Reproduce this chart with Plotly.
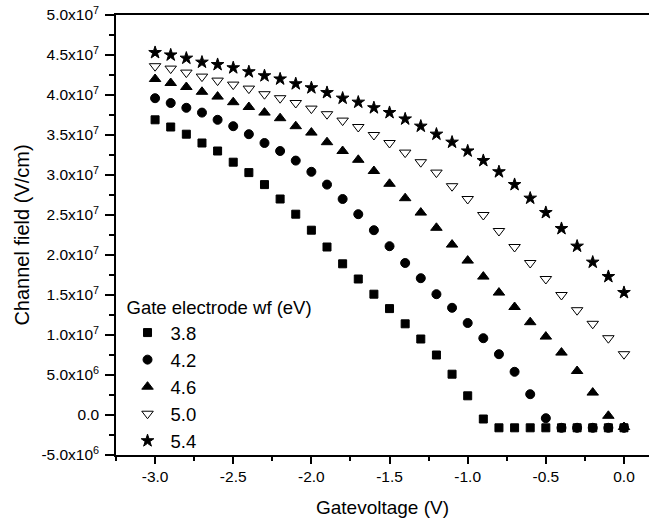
import plotly.graph_objects as go

gate_voltage = [round(-3.0 + 0.1 * i, 1) for i in range(31)]

field_38 = [3.69e7, 3.60e7, 3.51e7, 3.40e7, 3.30e7, 3.16e7, 3.03e7, 2.88e7, 2.70e7, 2.51e7,
            2.31e7, 2.10e7, 1.89e7, 1.70e7, 1.51e7, 1.33e7, 1.14e7, 9.5e6, 7.5e6, 5.1e6,
            2.4e6, -5.0e5, -1.6e6, -1.6e6, -1.6e6, -1.6e6, -1.6e6, -1.6e6, -1.6e6, -1.6e6, -1.6e6]
field_42 = [3.96e7, 3.90e7, 3.84e7, 3.78e7, 3.69e7, 3.61e7, 3.51e7, 3.40e7, 3.30e7, 3.18e7,
            3.04e7, 2.88e7, 2.70e7, 2.51e7, 2.31e7, 2.11e7, 1.90e7, 1.71e7, 1.51e7, 1.34e7,
            1.15e7, 9.6e6, 7.6e6, 5.4e6, 2.6e6, -4.0e5, -1.6e6, -1.6e6, -1.6e6, -1.6e6, -1.6e6]
field_46 = [4.20e7, 4.15e7, 4.10e7, 4.04e7, 3.98e7, 3.91e7, 3.85e7, 3.78e7, 3.71e7, 3.61e7,
            3.53e7, 3.41e7, 3.30e7, 3.19e7, 3.05e7, 2.89e7, 2.71e7, 2.53e7, 2.34e7, 2.13e7,
            1.93e7, 1.73e7, 1.53e7, 1.35e7, 1.16e7, 9.8e6, 7.8e6, 5.5e6, 2.8e6, -1.0e5, -1.5e6]
field_50 = [4.36e7, 4.33e7, 4.28e7, 4.23e7, 4.18e7, 4.13e7, 4.08e7, 4.01e7, 3.96e7, 3.90e7,
            3.83e7, 3.76e7, 3.68e7, 3.60e7, 3.50e7, 3.40e7, 3.28e7, 3.16e7, 3.03e7, 2.86e7,
            2.70e7, 2.50e7, 2.30e7, 2.10e7, 1.90e7, 1.70e7, 1.50e7, 1.31e7, 1.14e7, 9.6e6, 7.6e6]
field_54 = [4.53e7, 4.50e7, 4.46e7, 4.41e7, 4.38e7, 4.34e7, 4.29e7, 4.24e7, 4.20e7, 4.14e7,
            4.09e7, 4.03e7, 3.96e7, 3.91e7, 3.84e7, 3.78e7, 3.70e7, 3.61e7, 3.51e7, 3.41e7,
            3.30e7, 3.18e7, 3.04e7, 2.88e7, 2.71e7, 2.53e7, 2.33e7, 2.11e7, 1.91e7, 1.73e7, 1.53e7]

series_names = ["3.8", "4.2", "4.6", "5.0", "5.4"]
series_values = [field_38, field_42, field_46, field_50, field_54]
symbols = ["square", "circle", "triangle-up", "triangle-down-open", "star"]
sizes = [8, 9, 10, 10, 9.5]

y_tick_vals = [-5e6, 0, 5e6, 1e7, 1.5e7, 2e7, 2.5e7, 3e7, 3.5e7, 4e7, 4.5e7, 5e7]
y_tick_text = ["-5.0x10<sup>6</sup>", "0.0", "5.0x10<sup>6</sup>", "1.0x10<sup>7</sup>",
               "1.5x10<sup>7</sup>", "2.0x10<sup>7</sup>", "2.5x10<sup>7</sup>", "3.0x10<sup>7</sup>",
               "3.5x10<sup>7</sup>", "4.0x10<sup>7</sup>", "4.5x10<sup>7</sup>", "5.0x10<sup>7</sup>"]
x_tick_vals = [-3.0, -2.5, -2.0, -1.5, -1.0, -0.5, 0.0]
x_tick_text = ["-3.0", "-2.5", "-2.0", "-1.5", "-1.0", "-0.5", "0.0"]

FONT = "Liberation Sans, Arial, sans-serif"

fig = go.Figure()
for name, vals, sym, sz in zip(series_names, series_values, symbols, sizes):
    fig.add_trace(go.Scatter(
        x=gate_voltage, y=vals, mode="markers", name=name,
        marker=dict(symbol=sym, size=sz, color="black",
                    line=dict(color="black", width=1)),
    ))

fig.update_layout(
    template="none",
    width=649, height=522,
    margin=dict(l=116, r=0, t=15, b=67),
    paper_bgcolor="white", plot_bgcolor="white",
    font=dict(family=FONT, color="black"),
    showlegend=True,
    legend=dict(
        title=dict(text="Gate electrode wf (eV)", font=dict(size=18.5, family=FONT)),
        font=dict(size=18.5, family=FONT),
        x=0.016, y=0.375, xanchor="left", yanchor="top",
        bgcolor="rgba(0,0,0,0)", borderwidth=0,
        tracegroupgap=0, itemwidth=36,
    ),
    xaxis=dict(
        range=[-3.25, 0.16], tickmode="array", tickvals=x_tick_vals, ticktext=x_tick_text,
        showgrid=False, zeroline=False, showline=True, linecolor="black", linewidth=1.5,
        mirror=True, ticks="outside", ticklen=7, tickwidth=1.5, tickcolor="black",
        tickfont=dict(size=15.5, family=FONT), automargin=False,
        minor=dict(tickvals=[-3.25, -2.75, -2.25, -1.75, -1.25, -0.75, -0.25], ticks="outside",
                   ticklen=4, tickwidth=1.5, tickcolor="black", showgrid=False),
        title=dict(text="Gatevoltage (V)", font=dict(size=19, family=FONT), standoff=16),
    ),
    yaxis=dict(
        range=[-5e6, 5e7], tickmode="array", tickvals=y_tick_vals, ticktext=y_tick_text,
        showgrid=False, zeroline=False, showline=True, linecolor="black", linewidth=1.5,
        mirror=False, ticks="outside", ticklen=9, tickwidth=1.5, tickcolor="black",
        tickfont=dict(size=15.5, family=FONT), automargin=False, ticklabelstandoff=3,
        minor=dict(tickvals=[-2.5e6 + 5e6 * i for i in range(11)], ticks="outside",
                   ticklen=5, tickwidth=1.5, tickcolor="black", showgrid=False),
        title=dict(text="Channel field (V/cm)", font=dict(size=20, family=FONT), standoff=6),
    ),
)

fig.write_html("out.html")
